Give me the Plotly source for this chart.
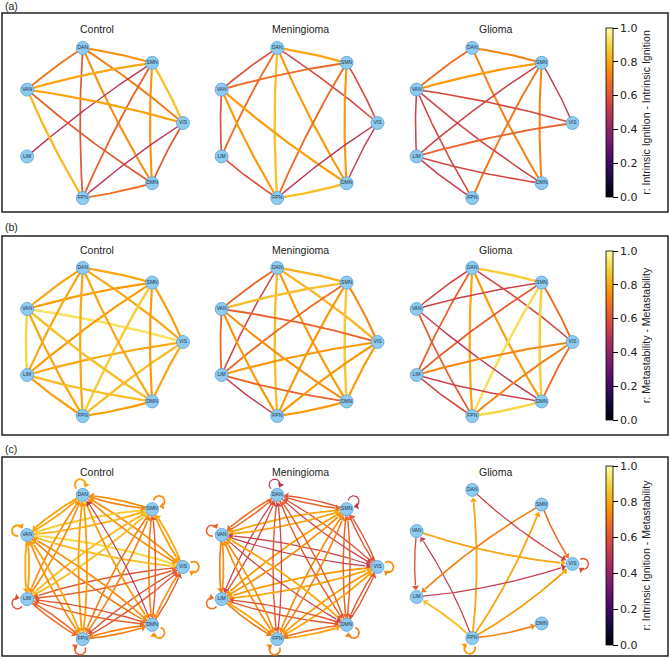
import numpy as np
import plotly.graph_objects as go
from plotly.colors import sample_colorscale

W, H = 670, 658
NODES = ["VIS", "SMN", "DAN", "VAN", "LIM", "FPN", "DMN"]
GROUPS = ["Control", "Meningioma", "Glioma"]
PANEL_LABELS = ["(a)", "(b)", "(c)"]
CBAR_TITLES = ["r: Intrinsic Ignition - Intrinsic Ignition",
               "r: Metastability - Metastability",
               "r: Intrinsic Ignition - Metastability"]
CBAR_TICKS = [0.0, 0.2, 0.4, 0.6, 0.8, 1.0]

# ---- (a) r: Intrinsic Ignition - Intrinsic Ignition (undirected) ----
a_control = [("DAN", "SMN", 0.75), ("DAN", "VAN", 0.69), ("DAN", "FPN", 0.62), ("DAN", "DMN", 0.75),
             ("DAN", "VIS", 0.71), ("SMN", "VAN", 0.80), ("SMN", "VIS", 0.86), ("SMN", "LIM", 0.50),
             ("SMN", "FPN", 0.65), ("SMN", "DMN", 0.76), ("VAN", "VIS", 0.79), ("VAN", "DMN", 0.63),
             ("VAN", "FPN", 0.84), ("VIS", "FPN", 0.50), ("VIS", "DMN", 0.62), ("FPN", "DMN", 0.68)]
a_meningioma = [("DAN", "SMN", 0.80), ("DAN", "VAN", 0.60), ("DAN", "LIM", 0.67), ("DAN", "FPN", 0.86),
                ("DAN", "DMN", 0.77), ("DAN", "VIS", 0.57), ("SMN", "VAN", 0.67), ("SMN", "FPN", 0.67),
                ("SMN", "DMN", 0.77), ("SMN", "VIS", 0.57), ("VAN", "LIM", 0.60), ("VAN", "FPN", 0.77),
                ("VAN", "DMN", 0.78), ("VIS", "FPN", 0.50), ("VIS", "DMN", 0.52), ("LIM", "FPN", 0.60),
                ("FPN", "DMN", 0.85)]
a_glioma = [("DAN", "SMN", 0.72), ("DAN", "VAN", 0.67), ("DAN", "DMN", 0.72), ("SMN", "VAN", 0.78),
            ("SMN", "LIM", 0.55), ("SMN", "FPN", 0.70), ("SMN", "DMN", 0.72), ("SMN", "VIS", 0.53),
            ("VAN", "VIS", 0.57), ("VAN", "LIM", 0.55), ("VAN", "FPN", 0.57), ("VAN", "DMN", 0.55),
            ("LIM", "VIS", 0.65), ("LIM", "FPN", 0.53), ("LIM", "DMN", 0.57)]

# ---- (b) r: Metastability - Metastability (undirected) ----
b_control = [("VIS", "SMN", 0.78), ("VIS", "DAN", 0.80), ("VIS", "VAN", 0.93), ("VIS", "LIM", 0.80),
             ("VIS", "FPN", 0.85), ("VIS", "DMN", 0.80), ("SMN", "DAN", 0.80), ("SMN", "VAN", 0.78),
             ("SMN", "LIM", 0.78), ("SMN", "FPN", 0.88), ("SMN", "DMN", 0.78), ("DAN", "VAN", 0.80),
             ("DAN", "LIM", 0.80), ("DAN", "FPN", 0.80), ("DAN", "DMN", 0.80), ("VAN", "LIM", 0.90),
             ("VAN", "FPN", 0.80), ("VAN", "DMN", 0.85), ("LIM", "FPN", 0.78), ("LIM", "DMN", 0.85),
             ("FPN", "DMN", 0.78)]
b_meningioma = [("DAN", "SMN", 0.82), ("DAN", "VAN", 0.65), ("DAN", "LIM", 0.57), ("DAN", "FPN", 0.85),
                ("DAN", "DMN", 0.77), ("DAN", "VIS", 0.83), ("SMN", "VAN", 0.85), ("SMN", "LIM", 0.67),
                ("SMN", "FPN", 0.77), ("SMN", "DMN", 0.87), ("SMN", "VIS", 0.73), ("VAN", "LIM", 0.66),
                ("VAN", "VIS", 0.65), ("VAN", "DMN", 0.75), ("VAN", "FPN", 0.77), ("LIM", "VIS", 0.77),
                ("LIM", "DMN", 0.65), ("LIM", "FPN", 0.52), ("VIS", "FPN", 0.77), ("VIS", "DMN", 0.78),
                ("FPN", "DMN", 0.77)]
b_glioma = [("DAN", "SMN", 0.88), ("DAN", "VAN", 0.57), ("DAN", "LIM", 0.65), ("DAN", "FPN", 0.80),
            ("DAN", "DMN", 0.78), ("DAN", "VIS", 0.57), ("SMN", "VAN", 0.55), ("SMN", "LIM", 0.63),
            ("SMN", "FPN", 0.92), ("SMN", "DMN", 0.88), ("SMN", "VIS", 0.67), ("VAN", "FPN", 0.63),
            ("VAN", "DMN", 0.50), ("LIM", "VIS", 0.73), ("LIM", "FPN", 0.57), ("LIM", "DMN", 0.55),
            ("FPN", "DMN", 0.90), ("FPN", "VIS", 0.72), ("VIS", "DMN", 0.67)]

# ---- (c) r: Intrinsic Ignition - Metastability (directed; rows = source, cols = target,
#      order VIS, SMN, DAN, VAN, LIM, FPN, DMN; diagonal = self-loop) ----
c_control = [
    [0.75, 0.80, 0.75, 0.90, 0.62, 0.60, 0.75],
    [0.78, 0.75, 0.75, 0.88, 0.85, 0.72, 0.72],
    [0.75, 0.72, 0.80, 0.80, 0.75, 0.78, 0.78],
    [0.85, 0.82, 0.80, 0.78, 0.80, 0.75, 0.72],
    [0.65, 0.85, 0.75, 0.78, 0.60, 0.68, 0.65],
    [0.62, 0.72, 0.78, 0.80, 0.65, 0.65, 0.72],
    [0.62, 0.63, 0.50, 0.75, 0.62, 0.72, 0.75],
]
c_meningioma = [
    [0.75, 0.62, 0.60, 0.55, 0.78, 0.78, 0.62],
    [0.60, 0.50, 0.62, 0.80, 0.78, 0.75, 0.65],
    [0.55, 0.65, 0.50, 0.68, 0.55, 0.62, 0.62],
    [0.52, 0.80, 0.65, 0.65, 0.72, 0.75, 0.55],
    [0.80, 0.75, 0.58, 0.75, 0.68, 0.70, 0.62],
    [0.80, 0.72, 0.55, 0.75, 0.80, 0.72, 0.80],
    [0.62, 0.65, 0.65, 0.80, 0.62, 0.68, 0.72],
]
c_glioma = [("FPN", "DAN", 0.80), ("FPN", "SMN", 0.80), ("FPN", "LIM", 0.85), ("FPN", "DMN", 0.72),
            ("FPN", "VIS", 0.78), ("FPN", "VAN", 0.52), ("FPN", "FPN", 0.78), ("VAN", "LIM", 0.60),
            ("VAN", "VIS", 0.80), ("SMN", "LIM", 0.72), ("SMN", "VIS", 0.68), ("DAN", "VIS", 0.55),
            ("LIM", "VIS", 0.53), ("VIS", "VIS", 0.60)]


def matrix_to_edges(m):
    return [(NODES[i], NODES[j], m[i][j]) for i in range(7) for j in range(7)]


PANELS = [
    dict(edges=[a_control, a_meningioma, a_glioma], directed=False),
    dict(edges=[b_control, b_meningioma, b_glioma], directed=False),
    dict(edges=[matrix_to_edges(c_control), matrix_to_edges(c_meningioma), c_glioma], directed=True),
]

# ---- geometry (pixel space) ----
CX = [101, 295.5, 490.5]
RX = 82
GEOM = [[(123, 77)] * 3, [(342, 76)] * 3, [(567, 74), (567, 74), (564, 76)]]
BOXES = [(13, 212), (236, 435), (457, 656)]
TITLE_X = [97, 300, 495]
TITLE_Y = [29, 250, 472]
LABEL_Y = [6, 227, 449]
CBARS = [(28, 197), (251, 420), (466, 645)]
NODE_R = 6.5
RAD_U = 0.035
RAD_D = 0.06
ARROW = 6


def color(v):
    return sample_colorscale("Inferno", [v])[0]


def arc(p0, p1, rad, n=60):
    p0 = np.asarray(p0, float)
    p1 = np.asarray(p1, float)
    m = (p0 + p1) / 2
    d = p1 - p0
    c = m + rad * np.array([-d[1], d[0]])
    t = np.linspace(0, 1, n)[:, None]
    return (1 - t) ** 2 * p0 + 2 * (1 - t) * t * c + t ** 2 * p1


fig = go.Figure()
arrow_x, arrow_y, arrow_ang, arrow_col = [], [], [], []

for pi, panel in enumerate(PANELS):
    for gi in range(3):
        cx = CX[gi]
        cy, ry = GEOM[pi][gi]
        pos = {n: np.array([cx + RX * np.cos(2 * np.pi * k / 7), cy - ry * np.sin(2 * np.pi * k / 7)])
               for k, n in enumerate(NODES)}
        for (s, t, v) in panel["edges"][gi]:
            col = color(v)
            if not panel["directed"]:
                w = 2.8 * v
                i, j = sorted([NODES.index(s), NODES.index(t)])
                pts = arc(pos[NODES[i]], pos[NODES[j]], RAD_U)
                fig.add_trace(go.Scatter(x=pts[:, 0], y=pts[:, 1], mode="lines",
                                         line=dict(color=col, width=w), hoverinfo="skip",
                                         showlegend=False))
                continue
            w = 2.3 * v
            if s == t:
                p = pos[s]
                u = p - np.array([cx, cy])
                u = u / np.hypot(*u)
                lc = p + u * (NODE_R + 4)
                base = np.arctan2(-u[1], -u[0])
                th = np.linspace(base + 1.0, base + 2 * np.pi - 0.75, 40)
                pts = np.c_[lc[0] + 5.5 * np.cos(th), lc[1] + 5.5 * np.sin(th)]
                fig.add_trace(go.Scatter(x=pts[:-3, 0], y=pts[:-3, 1], mode="lines",
                                         line=dict(color=col, width=w), hoverinfo="skip",
                                         showlegend=False))
                d = pts[-1] - pts[-4]
                d = d / np.hypot(*d)
                tip = pts[-1]
                arrow_x.append(tip[0] - d[0] * ARROW / 2)
                arrow_y.append(tip[1] - d[1] * ARROW / 2)
                arrow_ang.append(np.degrees(np.arctan2(d[0], -d[1])))
                arrow_col.append(col)
                continue
            pts = arc(pos[s], pos[t], RAD_D, 120)
            dist = np.hypot(*(pts - pos[t]).T)
            line_pts = pts[dist >= NODE_R + ARROW * 0.8]
            tip = pts[np.where(dist >= NODE_R)[0][-1]]
            back = pts[np.where(dist >= NODE_R + 6)[0][-1]]
            d = tip - back
            d = d / np.hypot(*d)
            fig.add_trace(go.Scatter(x=line_pts[:, 0], y=line_pts[:, 1], mode="lines",
                                     line=dict(color=col, width=w), hoverinfo="skip",
                                     showlegend=False))
            arrow_x.append(tip[0] - d[0] * ARROW / 2)
            arrow_y.append(tip[1] - d[1] * ARROW / 2)
            arrow_ang.append(np.degrees(np.arctan2(d[0], -d[1])))
            arrow_col.append(col)

        # nodes
        fig.add_trace(go.Scatter(
            x=[pos[n][0] for n in NODES], y=[pos[n][1] for n in NODES],
            mode="markers+text", text=NODES, textposition="middle center",
            textfont=dict(family="Liberation Sans", size=5, color="#1e3046"),
            marker=dict(size=13, color="#8ecbf0", line=dict(color="#5d9fd6", width=0.8)),
            hoverinfo="skip", showlegend=False))

        fig.add_annotation(x=TITLE_X[gi], y=TITLE_Y[pi], text=GROUPS[gi], showarrow=False,
                           xref="x", yref="y", xanchor="center", yanchor="middle",
                           font=dict(family="Liberation Sans", size=10.5, color="#222"))

    # panel box + label
    y0, y1 = BOXES[pi]
    fig.add_shape(type="rect", xref="x", yref="y", x0=2, x1=668, y0=y0, y1=y1,
                  line=dict(color="#222", width=1.5), fillcolor="rgba(0,0,0,0)", layer="below")
    fig.add_annotation(x=3, y=LABEL_Y[pi], text=PANEL_LABELS[pi], showarrow=False,
                       xref="x", yref="y", xanchor="left", yanchor="middle",
                       font=dict(family="Liberation Sans", size=10.5, color="#222"))

    # colorbar
    top, bot = CBARS[pi]
    fig.add_trace(go.Scatter(
        x=[-50], y=[-50], mode="markers", hoverinfo="skip", showlegend=False,
        marker=dict(size=1, color=[0.5], colorscale="Inferno", cmin=0, cmax=1, showscale=True,
                    colorbar=dict(x=606 / W, xanchor="left", xpad=0, y=1 - (top + bot) / 2 / H,
                                  yanchor="middle", ypad=0, len=bot - top, lenmode="pixels",
                                  thickness=7, thicknessmode="pixels", outlinewidth=0.8,
                                  outlinecolor="#000", tickvals=CBAR_TICKS,
                                  ticktext=[f"{t:.1f}" for t in CBAR_TICKS], ticks="outside",
                                  ticklen=5, tickwidth=0.8, tickcolor="#000",
                                  tickfont=dict(family="DejaVu Sans", size=11, color="#222"),
                                  title=dict(text=CBAR_TITLES[pi], side="right",
                                             font=dict(family="Liberation Sans", size=10.5,
                                                       color="#222"))))))

# arrowheads
fig.add_trace(go.Scatter(x=arrow_x, y=arrow_y, mode="markers", hoverinfo="skip", showlegend=False,
                         marker=dict(symbol="triangle-up", size=ARROW, angle=arrow_ang,
                                     color=arrow_col, line=dict(width=0))))

# move node traces to the top
node_traces = [t for t in fig.data if t.mode == "markers+text"]
others = [t for t in fig.data if t.mode != "markers+text"]
fig.data = tuple(others + node_traces)

fig.update_layout(
    width=W, height=H, margin=dict(l=0, r=0, t=0, b=0, autoexpand=False),
    paper_bgcolor="white", plot_bgcolor="white",
    xaxis=dict(range=[0, W], visible=False, fixedrange=True, domain=[0, 1]),
    yaxis=dict(range=[H, 0], visible=False, fixedrange=True, domain=[0, 1]),
)
fig.write_html("out.html")
